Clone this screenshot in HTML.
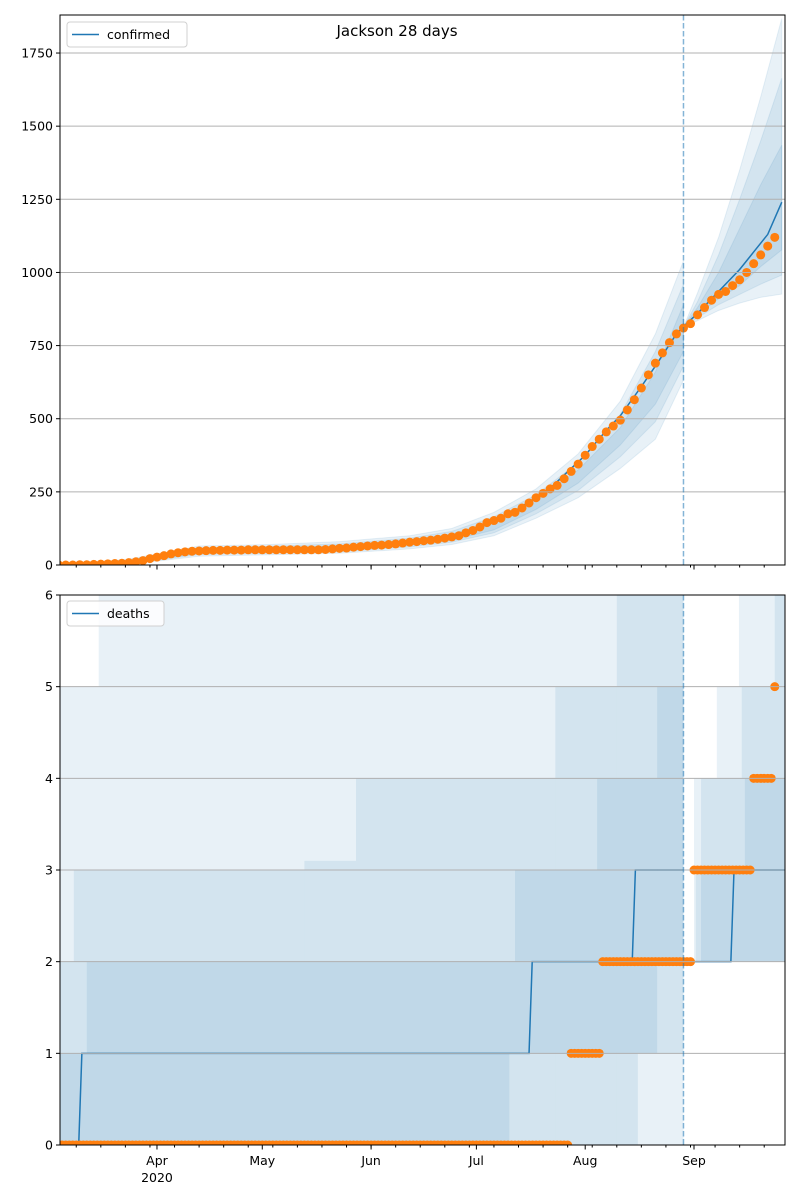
<!DOCTYPE html>
<html><head><meta charset="utf-8"><style>
html,body{margin:0;padding:0;background:#fff;}
svg{display:block;font-family:"DejaVu Sans","Liberation Sans",sans-serif;}
</style></head><body>
<svg id="chart" width="800" height="1200" viewBox="0 0 800 1200" xmlns="http://www.w3.org/2000/svg">
<text x="397" y="36" font-size="15" text-anchor="middle">Jackson 28 days</text>
</svg>
<script>
// ---- top panel data (day index 0 = Mar 4 2020) ----
const obsDays = [];
for (let d = 0; d <= 204; d += 2) obsDays.push(d);
const confirmedObs = [0,0,0,1,1,2,3,4,5,6,8,11,15,22,27,32,38,42,45,47,48,49,50,50,51,51,51,52,52,52,52,52,52,52,52,52,52,52,53,55,57,58,61,63,65,67,68,70,72,75,78,80,83,85,88,92,96,100,110,118,130,145,152,160,175,180,195,212,230,245,260,272,295,320,345,375,405,430,455,475,495,530,565,605,650,690,725,760,790,810,825,855,880,905,925,935,955,975,1000,1030,1060,1090,1120];
const modelDays = [0,10,20,30,40,50,60,70,80,90,100,110,120,130,140,146,150,156,160,166,170,176,178];
const modelPre = [0,3,10,30,45,50,52,53,57,66,78,92,128,185,262,330,375,460,510,610,680,790,815];
const modelPostDays = [178,182,186,190,194,198,202,206];
const modelPost = [815,860,910,960,1010,1070,1130,1240];
const bandDays = [0,20,40,60,80,100,112,124,136,148,160,170,178];
const outerLo = [0,2,30,35,40,55,70,100,160,230,330,430,632];
const outerHi = [0,20,65,70,80,100,125,180,260,380,560,790,1040];
const midLo = [0,4,36,40,45,62,78,110,175,255,370,490,680];
const midHi = [0,16,58,64,72,92,115,165,240,350,515,730,960];
const innerLo = [0,6,40,45,50,68,84,120,190,280,410,550,730];
const innerHi = [0,13,52,58,66,86,106,150,225,325,470,660,890];
const postBandDays = [178,182,188,194,200,206];
const postOuterLo = [813,835,870,895,915,926];
const postOuterHi = [813,930,1120,1350,1600,1868];
const postMidLo = [813,845,890,925,960,991];
const postMidHi = [813,900,1060,1250,1450,1664];
const postInnerLo = [813,855,910,955,1020,1077];
const postInnerHi = [813,880,1000,1150,1300,1435];
const topTicks = [0,250,500,750,1000,1250,1500,1750];
// ---- bottom panel data ----
const dOuterStarts = [0,11.4], dOuterLo = [0,0], dOuterHi = [5,6.5];
const dMidStarts = [0,4.3,70,84.7,141.5,159,165], dMidLo = [0,0,0,0,0,0,1], dMidHi = [2,3,3.1,4,5,6.5,6.5];
const dInnerStarts = [0,8,128.4,130,153.4,170.5], dInnerLo = [0,0,1,1,1,2], dInnerHi = [1,2,2,3,4,5];
const dPostOuterStarts = [181,187.5,193.8], dPostOuterLo = [2,2,2], dPostOuterHi = [4,5,6.5];
const dPostMidStarts = [181.5,183,194.6,204], dPostMidLo = [2,2,2,2], dPostMidHi = [3,4,5,6.5];
const dPostInnerStarts = [183,195.5], dPostInnerLo = [2,2], dPostInnerHi = [3,4];
const deathStepDays = [0,5.7,134,163.4];
const deathStepVals = [0,1,2,3];
const deathPostStepDays = [178,191.5];
const deathPostStepVals = [2,3];
const deathRunStart = [0,146,155,181,198,204];
const deathRunEnd = [145,154,180,197,203,204];
const deathRunValue = [0,1,2,3,4,5];
const bottomTicks = [0,1,2,3,4,5,6];
const monthLabels = ["Apr","May","Jun","Jul","Aug","Sep"];
const monthDays = [28,58,89,119,150,181];
const forecastDay = 178;

const NS = "http://www.w3.org/2000/svg";
const svg = document.getElementById("chart");
const L = 60, R = 785;
const X = d => 58.7 + 3.51 * d;
const T = {top:15, bot:565, max:1880}, B = {top:595, bot:1145, max:6};
const YT = v => T.bot - v * (T.bot - T.top) / T.max;
const YB = v => B.bot - v * (B.bot - B.top) / B.max;
function el(tag, attrs, parent) {
  const e = document.createElementNS(NS, tag);
  for (const k in attrs) e.setAttribute(k, attrs[k]);
  (parent || svg).appendChild(e);
  return e;
}
const defs = el("defs", {});
const c1 = el("clipPath", {id:"clipT"}, defs); el("rect", {x:L, y:T.top, width:R-L, height:T.bot-T.top}, c1);
const c2 = el("clipPath", {id:"clipB"}, defs); el("rect", {x:L, y:B.top, width:R-L, height:B.bot-B.top}, c2);
const gT = el("g", {"clip-path":"url(#clipT)"});


const gB = el("g", {"clip-path":"url(#clipB)"});



function band(days, lo, hi, name) {
  let pts = days.map((d,i) => X(d)+","+YT(hi[i]));
  for (let i = days.length-1; i >= 0; i--) pts.push(X(days[i])+","+YT(lo[i]));
  const p = el("polygon", {points:pts.join(" "), fill:"#1f77b4", "fill-opacity":"0.1", stroke:"#1f77b4", "stroke-opacity":"0.1"}, gT);
  
  
}
band(bandDays, outerLo, outerHi, "confirmed-band-outer");
band(bandDays, midLo, midHi, "confirmed-band-mid");
band(bandDays, innerLo, innerHi, "confirmed-band-inner");
band(postBandDays, postOuterLo, postOuterHi, "forecast-band-outer");
band(postBandDays, postMidLo, postMidHi, "forecast-band-mid");
band(postBandDays, postInnerLo, postInnerHi, "forecast-band-inner");

function stepBand(starts, lo, hi, end, name) {
  for (let i = 0; i < starts.length; i++) {
    const e = i+1 < starts.length ? starts[i+1] : end;
    const r = el("rect", {x:X(starts[i]), y:YB(hi[i]), width:X(e)-X(starts[i]), height:YB(lo[i])-YB(hi[i]), fill:"#1f77b4", "fill-opacity":"0.1"}, gB);
    
    
  }
}
stepBand(dOuterStarts, dOuterLo, dOuterHi, forecastDay, "deaths-band-outer");
stepBand(dMidStarts, dMidLo, dMidHi, forecastDay, "deaths-band-mid");
stepBand(dInnerStarts, dInnerLo, dInnerHi, forecastDay, "deaths-band-inner");
stepBand(dPostOuterStarts, dPostOuterLo, dPostOuterHi, 207, "deaths-forecast-band-outer");
stepBand(dPostMidStarts, dPostMidLo, dPostMidHi, 207, "deaths-forecast-band-mid");
stepBand(dPostInnerStarts, dPostInnerLo, dPostInnerHi, 207, "deaths-forecast-band-inner");

// grids
topTicks.forEach(v => {
  if (v === 0) return;
  const g = el("line", {x1:L, x2:R, y1:YT(v), y2:YT(v), stroke:"#b0b0b0", "stroke-width":"1"});
  
  
});
bottomTicks.forEach(v => {
  if (v === 0 || v === 6) return;
  const g = el("line", {x1:L, x2:R, y1:YB(v), y2:YB(v), stroke:"#b0b0b0", "stroke-width":"1"});
  
  
});

// model lines
function line(days, vals, name) {
  const p = el("polyline", {points:days.map((d,i)=>X(d)+","+YT(vals[i])).join(" "), fill:"none", stroke:"#1f77b4", "stroke-width":"1.5"}, gT);
  
  
}
line(modelDays, modelPre, "confirmed-model-line");
line(modelPostDays, modelPost, "confirmed-forecast-line");
function stepLine(days, vals, end, name) {
  let pts = [];
  for (let i = 0; i < days.length; i++) {
    const s = i === 0 ? days[i] : days[i] + 0.9;
    pts.push(X(s)+","+YB(vals[i]));
    const e = i+1 < days.length ? days[i+1] : end;
    pts.push(X(e)+","+YB(vals[i]));
  }
  const p = el("polyline", {points:pts.join(" "), fill:"none", stroke:"#1f77b4", "stroke-width":"1.5"}, gB);
  
  
}
stepLine(deathStepDays, deathStepVals, forecastDay, "deaths-model-line");
stepLine(deathPostStepDays, deathPostStepVals, 207, "deaths-forecast-line");

// observed dots
obsDays.forEach((d,i) => {
  const c = el("circle", {cx:X(d), cy:YT(confirmedObs[i]), r:4.5, fill:"#ff7f0e"}, gT);
  
  
});
deathRunStart.forEach((s,i) => {
  for (let d = s; d <= deathRunEnd[i]; d++) {
    const c = el("circle", {cx:X(d), cy:YB(deathRunValue[i]), r:4.5, fill:"#ff7f0e"}, gB);
    
    
  }
});

// forecast dashed lines
[[T.top,T.bot],[B.top,B.bot]].forEach(([a,b]) => {
  const l = el("line", {x1:X(forecastDay), x2:X(forecastDay), y1:a, y2:b, stroke:"#1f77b4", "stroke-opacity":"0.55", "stroke-width":"1.5", "stroke-dasharray":"5.5,2.5"});
  
  
});

// frames
[[T.top,T.bot],[B.top,B.bot]].forEach(([a,b]) => {
  const r = el("rect", {x:L, y:a, width:R-L, height:b-a, fill:"none", stroke:"#000", "stroke-width":"1"});
  
  
});

// y ticks
topTicks.forEach(v => {
  el("line", {x1:L-4, x2:L, y1:YT(v), y2:YT(v), stroke:"#000"});
  const t = el("text", {x:L-7, y:YT(v)+4.5, "font-size":"12.5", "text-anchor":"end"});
  t.textContent = v;
  
  
});
bottomTicks.forEach(v => {
  el("line", {x1:L-4, x2:L, y1:YB(v), y2:YB(v), stroke:"#000"});
  const t = el("text", {x:L-7, y:YB(v)+4.5, "font-size":"12.5", "text-anchor":"end"});
  t.textContent = v;
  
  
});

// x ticks
[T.bot, B.bot].forEach((yb, pi) => {
  for (let d = 5; d <= 206; d += 7) el("line", {x1:X(d), x2:X(d), y1:yb, y2:yb+2.5, stroke:"#000"});
  monthDays.forEach((d,i) => {
    el("line", {x1:X(d), x2:X(d), y1:yb, y2:yb+4.5, stroke:"#000"});
    if (pi === 1) {
      const t = el("text", {x:X(d), y:yb+20, "font-size":"12.5", "text-anchor":"middle"});
      t.textContent = monthLabels[i];
      
      
    }
  });
});
const yr = el("text", {x:X(28), y:B.bot+37, "font-size":"12.5", "text-anchor":"middle"});
yr.textContent = "2020";



// legends
function legend(x, y, w, label, name) {
  const g = el("g", {});
  
  
  el("rect", {x:x, y:y, width:w, height:25, rx:3, fill:"#fff", "fill-opacity":"0.8", stroke:"#d0d0d0"}, g);
  el("line", {x1:x+5, x2:x+32, y1:y+12.5, y2:y+12.5, stroke:"#1f77b4", "stroke-width":"1.5"}, g);
  const t = el("text", {x:x+40, y:y+17, "font-size":"12.5"}, g);
  t.textContent = label;
}
legend(67, 22, 120, "confirmed", "confirmed-legend");
legend(67, 601, 97, "deaths", "deaths-legend");
</script>
</body></html>
